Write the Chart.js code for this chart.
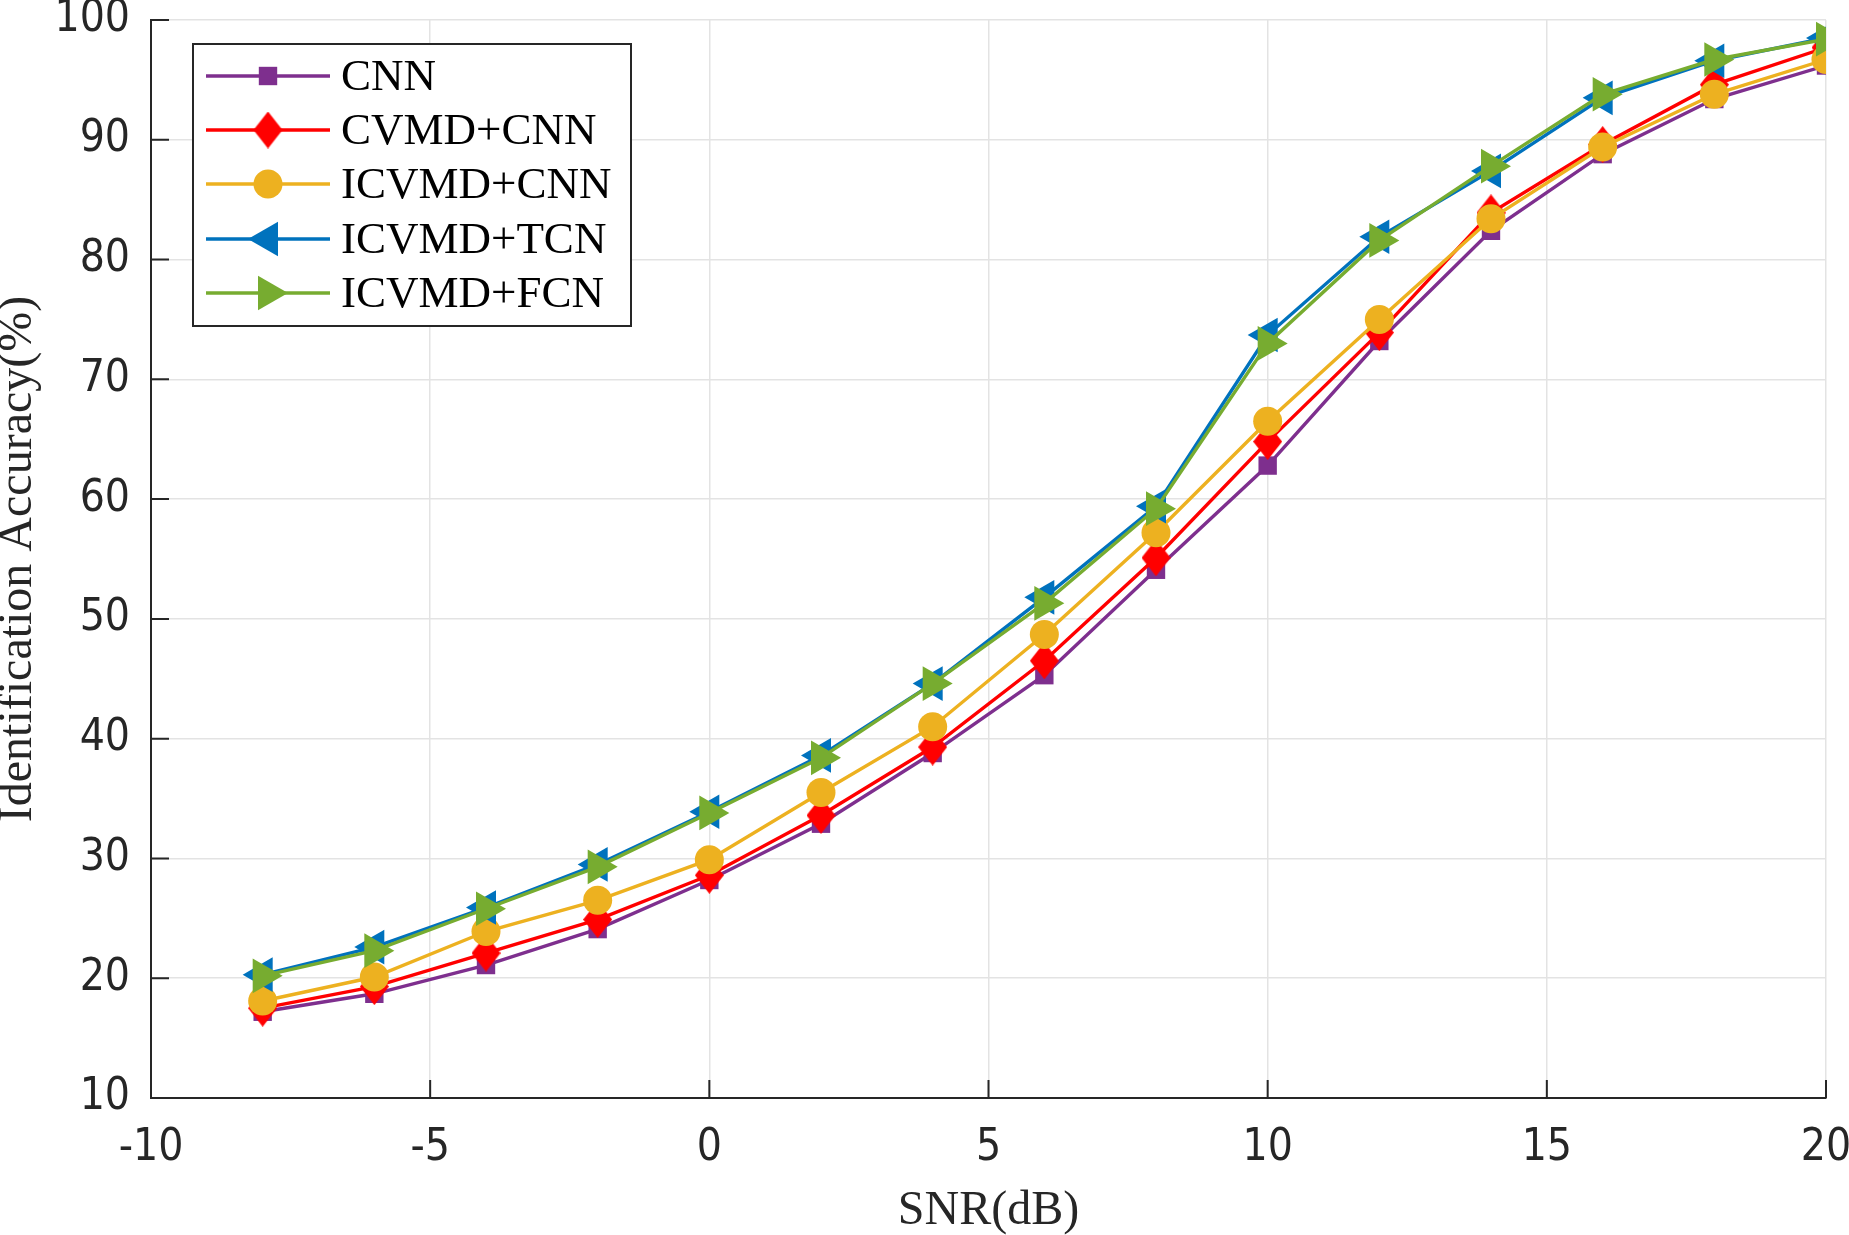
<!DOCTYPE html>
<html>
<head>
<meta charset="utf-8">
<title>Identification accuracy vs SNR</title>
<script src="https://cdn.jsdelivr.net/npm/chart.js@4.4.1/dist/chart.umd.min.js"></script>
<style>
    html, body { margin: 0; padding: 0; background: #ffffff; }
    #wrap { position: relative; width: 1849px; height: 1235px; }
</style>
</head>
<body>
<div id="wrap"><canvas id="acc-chart"></canvas></div>
<script>
// SNR points (dB)
const snr = [-8, -6, -4, -2, 0, 2, 4, 6, 8, 10, 12, 14, 16, 18, 20];

// Identification accuracy (%)
const cnn      = [17.2, 18.7, 21.1, 24.1, 28.2, 32.9, 38.8, 45.3, 54.1, 62.8, 73.2, 82.4, 88.8, 93.4, 96.2];
const cvmdCnn  = [17.5, 19.3, 22.1, 24.9, 28.6, 33.6, 39.3, 46.5, 55.1, 64.8, 73.9, 83.9, 89.6, 94.6, 97.7];
const icvmdCnn = [18.1, 20.1, 23.9, 26.5, 29.9, 35.5, 41.0, 48.7, 57.2, 66.5, 75.0, 83.4, 89.4, 93.8, 96.7];
const icvmdTcn = [20.3, 22.6, 25.9, 29.5, 33.9, 38.6, 44.6, 51.8, 59.4, 73.7, 81.9, 87.4, 93.5, 96.6, 98.5];
const icvmdFcn = [20.2, 22.3, 25.8, 29.3, 33.8, 38.4, 44.6, 51.3, 59.2, 73.0, 81.6, 87.8, 93.8, 96.7, 98.4];

const seriesNames = ['CNN', 'CVMD+CNN', 'ICVMD+CNN', 'ICVMD+TCN', 'ICVMD+FCN'];

// Axis ticks
const xTicks = [-10, -5, 0, 5, 10, 15, 20];
const yTicks = [10, 20, 30, 40, 50, 60, 70, 80, 90, 100];

const AXIS_COLOR = '#262626';
const GRID_COLOR = '#e3e3e3';
const TICK_FONT = '"Liberation Sans Narrow", "DejaVu Sans Condensed", "Liberation Sans", Arial, sans-serif';
const SERIF_FONT = '"Liberation Serif", "Times New Roman", serif';

// MATLAB-style tall diamond marker
function diamondMarker(w, h, color) {
    const c = document.createElement('canvas');
    c.width = w;
    c.height = h;
    const g = c.getContext('2d');
    g.fillStyle = color;
    g.beginPath();
    g.moveTo(w / 2, 0);
    g.lineTo(w, h / 2);
    g.lineTo(w / 2, h);
    g.lineTo(0, h / 2);
    g.closePath();
    g.fill();
    return c;
}

const styles = [
    { color: '#7E2F8E', pointStyle: 'rect', radius: 13, rotation: 0 },
    { color: '#FF0000', pointStyle: diamondMarker(29, 37, '#FF0000'), radius: 14, rotation: 0 },
    { color: '#EDB120', pointStyle: 'circle', radius: 14.5, rotation: 0 },
    { color: '#0072BD', pointStyle: 'triangle', radius: 20, rotation: -90 },
    { color: '#77AC30', pointStyle: 'triangle', radius: 20, rotation: 90 }
];

const seriesValues = [cnn, cvmdCnn, icvmdCnn, icvmdTcn, icvmdFcn];

const datasets = seriesValues.map((vals, i) => ({
    label: seriesNames[i],
    data: snr.map((x, j) => ({ x: x, y: vals[j] })),
    borderColor: styles[i].color,
    backgroundColor: styles[i].color,
    borderWidth: 3.4,
    tension: 0,
    pointStyle: styles[i].pointStyle,
    pointRadius: styles[i].radius,
    pointRotation: styles[i].rotation,
    pointBackgroundColor: styles[i].color,
    pointBorderWidth: 0,
    order: seriesValues.length - i // later series drawn on top
}));

// Inward tick marks on the left and bottom axes
const innerTicks = {
    id: 'innerTicks',
    beforeDatasetsDraw(chart) {
        const { ctx, chartArea, scales } = chart;
        ctx.save();
        ctx.strokeStyle = AXIS_COLOR;
        ctx.lineWidth = 2;
        ctx.beginPath();
        xTicks.forEach(v => {
            const px = scales.x.getPixelForValue(v);
            ctx.moveTo(px, chartArea.bottom);
            ctx.lineTo(px, chartArea.bottom - 18);
        });
        yTicks.forEach(v => {
            const py = scales.y.getPixelForValue(v);
            ctx.moveTo(chartArea.left, py);
            ctx.lineTo(chartArea.left + 18, py);
        });
        ctx.stroke();
        ctx.restore();
    }
};

// Boxed legend inside the plot, upper left
const boxLegend = {
    id: 'boxLegend',
    afterDraw(chart) {
        const { ctx } = chart;
        const box = { x: 193, y: 44, w: 438, h: 282 };
        const rowY = [76, 130, 184, 239, 293];
        ctx.save();
        ctx.fillStyle = '#ffffff';
        ctx.fillRect(box.x, box.y, box.w, box.h);
        ctx.strokeStyle = AXIS_COLOR;
        ctx.lineWidth = 2;
        ctx.strokeRect(box.x, box.y, box.w, box.h);

        chart.data.datasets.forEach((ds, i) => {
            const y = rowY[i];
            ctx.strokeStyle = ds.borderColor;
            ctx.lineWidth = 3.4;
            ctx.beginPath();
            ctx.moveTo(206, y);
            ctx.lineTo(330, y);
            ctx.stroke();

            ctx.fillStyle = ds.borderColor;
            Chart.helpers.drawPoint(ctx, {
                pointStyle: ds.pointStyle,
                rotation: ds.pointRotation,
                radius: ds.pointRadius,
                borderWidth: 0
            }, 268, y);

            ctx.fillStyle = '#000000';
            ctx.font = '45px ' + SERIF_FONT;
            ctx.textAlign = 'left';
            ctx.textBaseline = 'middle';
            ctx.fillText(ds.label, 341, y + 2);
        });
        ctx.restore();
    }
};

new Chart(document.getElementById('acc-chart'), {
    type: 'line',
    data: { datasets: datasets },
    plugins: [innerTicks, boxLegend],
    options: {
        responsive: true,
        maintainAspectRatio: false,
        animation: false,
        layout: { padding: { left: 0, right: 23, top: 16, bottom: 0 } },
        plugins: {
            legend: { display: false },
            tooltip: { enabled: false }
        },
        scales: {
            x: {
                type: 'linear',
                min: -10,
                max: 20,
                afterBuildTicks: scale => { scale.ticks = xTicks.map(v => ({ value: v })); },
                afterFit: scale => {
                    scale.height = 137;
                    scale.paddingLeft = 0;
                    scale.paddingRight = 0;
                },
                grid: { color: GRID_COLOR, lineWidth: 1.5, drawTicks: false },
                border: { color: AXIS_COLOR, width: 2 },
                ticks: {
                    color: AXIS_COLOR,
                    font: { family: TICK_FONT, size: 44 },
                    padding: 24,
                    maxRotation: 0,
                    callback: v => String(v)
                },
                title: {
                    display: true,
                    text: 'SNR(dB)',
                    color: AXIS_COLOR,
                    font: { family: SERIF_FONT, size: 48, lineHeight: 1 },
                    padding: 0
                }
            },
            y: {
                min: 10,
                max: 100,
                afterBuildTicks: scale => { scale.ticks = yTicks.map(v => ({ value: v })); },
                afterFit: scale => {
                    scale.width = 151;
                    scale.paddingTop = 0;
                    scale.paddingBottom = 0;
                },
                grid: { color: GRID_COLOR, lineWidth: 1.5, drawTicks: false },
                border: { color: AXIS_COLOR, width: 2 },
                ticks: {
                    color: AXIS_COLOR,
                    font: { family: TICK_FONT, size: 44 },
                    padding: 21,
                    callback: v => String(v)
                },
                title: {
                    display: true,
                    text: 'Identification Accuracy(%)',
                    color: AXIS_COLOR,
                    font: { family: SERIF_FONT, size: 48, lineHeight: 1 },
                    padding: { top: -6, bottom: 0 }
                }
            }
        }
    }
});
</script>
</body>
</html>
